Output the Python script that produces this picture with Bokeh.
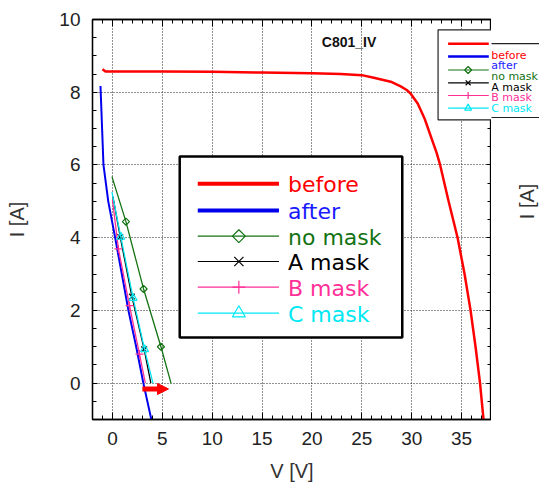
import numpy as np
from bokeh.plotting import figure
from bokeh.layouts import row
from bokeh.models import (Range1d, LinearAxis, SingleIntervalTicker, Label,
                          BoxAnnotation, Arrow, NormalHead)
from bokeh.embed import file_html
from bokeh.resources import INLINE

# ---- I-V data (V [V], I [A]) ----
before_v = [-1.0, -0.7, 0.0, 5.0, 10.0, 15.0, 20.0, 22.9, 25.0, 26.2, 27.9, 28.9,
            29.5, 29.9, 30.6, 31.3, 31.9, 32.5, 32.85, 33.7, 34.6, 35.3, 35.9, 36.4,
            36.85, 37.2]
before_i = [8.63, 8.57, 8.57, 8.57, 8.56, 8.54, 8.52, 8.50, 8.47, 8.40, 8.29, 8.16,
            8.06, 7.96, 7.69, 7.27, 6.80, 6.33, 6.0, 5.0, 4.0, 3.0, 2.0, 1.0,
            0.0, -1.0]

after_v = [-1.2, -0.9, -0.42, 0.27, 0.94, 1.6, 2.38, 3.1, 3.9]
after_i = [8.17, 6.0, 5.0, 4.0, 3.0, 2.0, 1.0, 0.0, -1.0]

nomask_v = [-0.05, 1.35, 3.12, 4.86, 5.87]
nomask_i = [5.68, 4.44, 2.59, 1.0, 0.0]

amask_v = [0.05, 0.78, 1.95, 3.18, 3.85]
amask_i = [5.12, 4.02, 2.38, 0.93, 0.0]

bmask_v = [0.0, 0.6, 1.71, 2.71, 3.3]
bmask_i = [5.04, 3.69, 2.13, 0.8, 0.0]

cmask_v = [-0.05, 0.84, 2.07, 3.22, 4.06]
cmask_i = [5.25, 4.02, 2.34, 0.93, 0.0]

legend_names = ["before", "after", "no mask", "A mask", "B mask", "C mask"]

x_ticks_major = 5
y_ticks_major = 2

# ---- layout (canvas pixels) ----
CW, CH = 539, 487
BL, BT, BB = 92, 19, 68
FRAME_R = 490              # right edge of the plotting frame
MAIN_W = FRAME_R + 1       # main figure width (1 px for the right tick axis)
SIDE_W = CW - MAIN_W       # strip to the right of the frame
X0, X1, Y0, Y1 = -2, 38, -1, 10
FW, FH = FRAME_R - BL, CH - BT - BB


def xd(px):
    """canvas pixel column -> V"""
    return X0 + (px - BL) * (X1 - X0) / FW


def yd(py):
    """canvas pixel row -> I"""
    return Y1 - (py - BT) * (Y1 - Y0) / FH


p = figure(width=MAIN_W, height=CH, output_backend="svg", toolbar_location=None,
           x_range=Range1d(X0, X1), y_range=Range1d(Y0, Y1),
           min_border_left=BL, min_border_right=0, min_border_top=BT,
           min_border_bottom=BB, x_axis_location=None, y_axis_location=None,
           background_fill_color="white", border_fill_color="white")
p.outline_line_color = "black"
p.outline_line_width = 1.3

xt = SingleIntervalTicker(interval=x_ticks_major, num_minor_ticks=5)
yt = SingleIntervalTicker(interval=y_ticks_major, num_minor_ticks=4)

TICK_FONT = "Liberation Sans"


def make_axis(ticker, major_len, show_labels, title=None, standoff=5):
    ax = LinearAxis(ticker=ticker)
    ax.axis_line_color = "black"
    ax.axis_line_width = 1.3
    ax.major_tick_in = major_len
    ax.major_tick_out = 0
    ax.minor_tick_in = 4
    ax.minor_tick_out = 0
    ax.major_tick_line_color = "black"
    ax.minor_tick_line_color = "black"
    if show_labels:
        ax.major_label_text_font = TICK_FONT
        ax.major_label_text_font_size = "19px"
        ax.major_label_text_color = "#222222"
        ax.major_label_standoff = 12
    else:
        ax.major_label_text_color = None
        ax.major_label_text_font_size = "1px"
        ax.major_label_standoff = 0
    if title:
        ax.axis_label = title
        ax.axis_label_text_font = TICK_FONT
        ax.axis_label_text_font_size = "20px"
        ax.axis_label_text_font_style = "normal"
        ax.axis_label_text_color = "#333333"
        ax.axis_label_standoff = standoff
    return ax


p.add_layout(make_axis(xt, 7, True, "V [V]", 12), "below")
p.add_layout(make_axis(xt, 7, False), "above")
p.add_layout(make_axis(yt, 5, True, "I [A]", 28), "left")
p.add_layout(make_axis(yt, 5, False), "right")

p.xgrid.ticker = xt
p.ygrid.ticker = yt
for g in (p.xgrid, p.ygrid):
    g.grid_line_color = "#222222"
    g.grid_line_dash = "1 2"
    g.grid_line_width = 1

# ---- curves ----
BLUE = "#0000ee"
GREEN = "#137313"
PINK = "#ff2f98"
CYAN = "#00e8f4"

p.line(before_v, before_i, line_color="red", line_width=2.5)
p.line(after_v, after_i, line_color=BLUE, line_width=2)

masks = [
    (nomask_v, nomask_i, GREEN, "square", np.pi / 4, 5),
    (amask_v, amask_i, "black", "x", 0, 8),
    (bmask_v, bmask_i, PINK, "cross", 0, 8),
    (cmask_v, cmask_i, CYAN, "triangle", 0, 8),
]
for v, i, col, mk, ang, sz in masks:
    p.line(v, i, line_color=col, line_width=1.3)
    # sample markers on the interior points
    p.scatter(v[1:-1], i[1:-1], marker=mk, angle=ang, size=sz,
              line_color=col, fill_color=None, line_width=1.2)

# shift of the open-circuit voltage
p.add_layout(Arrow(end=NormalHead(size=11, fill_color="red", line_color="red"),
                   x_start=after_v[-2] - 0.1, y_start=-0.16,
                   x_end=nomask_v[-1] - 0.25, y_end=-0.16,
                   line_color="red", line_width=5))

# ---- legends ----
line_colors = ["red", BLUE, GREEN, "black", PINK, CYAN]
text_colors = ["red", "#1a1aff", GREEN, "black", PINK, CYAN]
thick = [True, True, False, False, False, False]
markers = [None, None, ("square", np.pi / 4), ("x", 0), ("cross", 0), ("triangle", 0)]


def legend_keys(x_line, x_mark, rows, thick_w, mk_size):
    for col, th, mk, ry in zip(line_colors, thick, markers, rows):
        r = p.line([xd(x_line[0]), xd(x_line[1])], [yd(ry), yd(ry)],
                   line_color=col, line_width=thick_w if th else 1.2)
        r.level = "overlay"
        if mk is not None:
            sz = mk_size * (0.7 if mk[0] == "square" else 1.0)
            m = p.scatter([xd(x_mark)], [yd(ry)], marker=mk[0], angle=mk[1], size=sz,
                          line_color=col, fill_color=None, line_width=1.2)
            m.level = "overlay"


# large legend inside the frame
big_rows = [183.3, 210, 235.7, 261, 286.7, 312.7]
p.add_layout(BoxAnnotation(left=xd(179), right=xd(401), top=yd(156), bottom=yd(337),
                           fill_color="white", fill_alpha=1, line_color="black",
                           line_alpha=1, line_width=2.5))
legend_keys((197, 278), 238, big_rows, 4, 13)
for name, tcol, ry in zip(legend_names, text_colors, big_rows):
    p.add_layout(Label(x=xd(287), y=yd(ry + 1), text=name, text_color=tcol,
                       text_font="DejaVu Sans", text_font_size="22px",
                       text_align="left", text_baseline="middle", level="overlay"))

# small legend at the top right, running past the frame edge
small_rows = [43.3, 56, 69.5, 82.3, 95, 107.7]
SB_LEFT, SB_TOP, SB_BOTTOM = 436.7, 29.3, 119.3
p.add_layout(BoxAnnotation(left=xd(SB_LEFT), right=xd(FRAME_R + 20), top=yd(SB_TOP),
                           bottom=yd(SB_BOTTOM), fill_color="white", fill_alpha=1,
                           line_color="#222222", line_alpha=1, line_width=1.2))
legend_keys((446.7, 487.3), 466.7, small_rows, 2.6, 7)

# sample name
p.add_layout(Label(x=xd(320.7), y=yd(41.5), text="C801_IV", text_font="Liberation Sans",
                   text_font_style="bold", text_font_size="14px", text_color="#111111",
                   text_align="left", text_baseline="middle"))

# ---- strip right of the frame: small-legend labels and right axis title ----
s = figure(width=SIDE_W, height=CH, output_backend="svg", toolbar_location=None,
           x_range=Range1d(0, SIDE_W), y_range=Range1d(0, CH),
           min_border=0, x_axis_location=None, y_axis_location=None,
           background_fill_color="white", border_fill_color="white")
s.outline_line_color = None
s.xgrid.visible = False
s.ygrid.visible = False


def sxp(px):
    return px - MAIN_W


def syp(py):
    return CH - py


s.quad(left=[-5], right=[SIDE_W + 10], top=[syp(SB_TOP)], bottom=[syp(SB_BOTTOM)],
       fill_color="white", line_color="#222222", line_width=1.2)
for name, tcol, ry in zip(legend_names, text_colors, small_rows):
    s.add_layout(Label(x=sxp(490.7), y=syp(ry + 0.5), text=name, text_color=tcol,
                       text_font="DejaVu Sans", text_font_size="11px",
                       text_align="left", text_baseline="middle"))
s.add_layout(Label(x=sxp(526.5), y=syp(221.5), text="I [A]", text_font=TICK_FONT,
                   text_font_size="20px", text_color="#333333", angle=np.pi / 2,
                   text_align="center", text_baseline="middle"))

layout = row(p, s, spacing=0)
open("out.html", "w").write(file_html(layout, INLINE))
